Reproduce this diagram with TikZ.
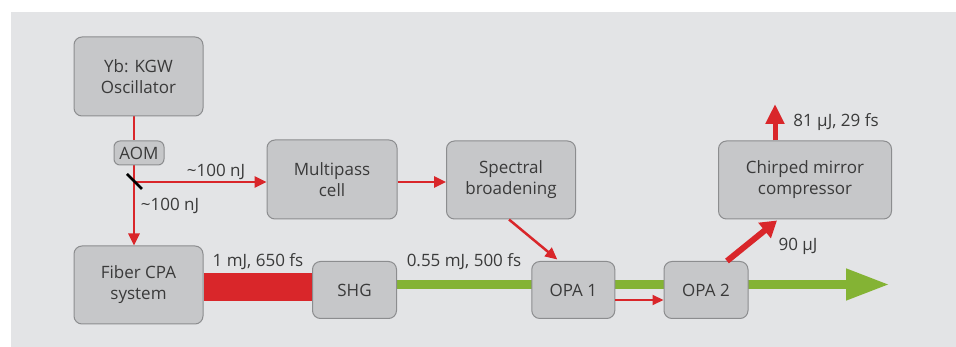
\documentclass[tikz,border=0pt]{standalone}
\usepackage{fontspec}
\setmainfont{Open Sans}
\usetikzlibrary{arrows.meta,calc,backgrounds}
\definecolor{bggrey}{HTML}{E3E4E6}
\definecolor{boxfill}{HTML}{C6C7C9}
\definecolor{boxline}{HTML}{8C8D8F}
\definecolor{beamred}{HTML}{D9262A}
\definecolor{beamgreen}{HTML}{84B334}
\definecolor{txt}{HTML}{3A3A3A}
\tikzset{
  unitbox/.style={draw=boxline, fill=boxfill, line width=1pt, rounded corners=8pt,
    align=center, text=txt, font=\fontsize{17}{21}\selectfont, inner sep=0pt},
  lbl/.style={text=txt, font=\fontsize{17}{20}\selectfont, inner sep=0pt},
  thinbeam/.style={draw=beamred, line width=2.5pt, -{Triangle[length=12pt,width=11pt]}},
  plainbeam/.style={draw=beamred, line width=2.5pt},
}
\begin{document}
\begin{tikzpicture}[x=1pt,y=-1pt]
\useasboundingbox (0,0) rectangle (956,347);
% nodes
\node[unitbox, minimum width=129pt, minimum height=79pt] (yb) at (138.5,76.5) {Yb: KGW\\Oscillator};
\node[unitbox, minimum width=50pt, minimum height=24pt, rounded corners=6pt] (aom) at (139,153) {AOM};
\node[unitbox, minimum width=130pt, minimum height=79pt] (mp) at (332,179.5) {Multipass\\cell};
\node[unitbox, minimum width=129pt, minimum height=78pt] (sb) at (511,180) {Spectral\\broadening};
\node[unitbox, minimum width=129pt, minimum height=78pt] (fiber) at (138.5,285) {Fiber CPA\\system};
\node[unitbox, minimum width=84pt, minimum height=57pt] (shg) at (354.5,290) {SHG};
\node[unitbox, minimum width=83pt, minimum height=57pt] (opa1) at (573.3,290) {OPA 1};
\node[unitbox, minimum width=84pt, minimum height=57pt] (opa2) at (706,290) {OPA 2};
\node[unitbox, minimum width=173pt, minimum height=78pt] (cmc) at (805,180) {Chirped mirror\\compressor};
\coordinate (mirror) at (134,182);
\coordinate (greentip) at (888,284.5);
\coordinate (outtip) at (775,104);
% background and beams behind boxes
\begin{scope}[on background layer]
\fill[bggrey] (11,12) rectangle (956,347);
\fill[beamred] (fiber.east |- 0,273.3) rectangle (shg.west |- 0,300.7);
\draw[beamgreen, line width=9.5pt] (shg.east |- greentip) -- ([xshift=-40pt]greentip);
\fill[beamgreen] ([xshift=-42pt,yshift=16.2pt]greentip) -- (greentip) -- ([xshift=-42pt,yshift=-16.2pt]greentip) -- cycle;
\draw[plainbeam] ([xshift=-4.5pt]yb.south) -- ([xshift=-5pt]aom.north);
\draw[thinbeam] ([xshift=-5pt]aom.south) -- ([xshift=-4.5pt]fiber.north);
\draw[thinbeam] (mirror) -- (mp.west |- mirror);
\end{scope}
\draw[line width=2.5pt, black] ($(mirror)+(-7,-8)$) -- ($(mirror)+(8,7)$);
\draw[thinbeam] (mp.east |- 0,182) -- (sb.west |- 0,182);
\draw[thinbeam] ([xshift=-2pt]sb.south) -- ([xshift=-16pt,yshift=1.5pt]opa1.north);
\draw[thinbeam, line width=2pt, -{Triangle[length=11pt,width=10pt]}] ([yshift=-10pt]opa1.east) -- ([yshift=-10pt]opa2.west);
\draw[draw=beamred, line width=6pt, -{Triangle[length=16pt,width=19pt]}] ([xshift=21pt]opa2.north) -- ([xshift=-28pt,yshift=-1pt]cmc.south);
\draw[draw=beamred, line width=5pt, -{Triangle[length=20pt,width=18pt]}] ([xshift=-30pt]cmc.north) -- (outtip);
% labels
\node[lbl] (l1) at (216,172) {\textasciitilde100 nJ};
\node[lbl] (l2) at (170,206) {\textasciitilde100 nJ};
\node[lbl] (l3) at (258,262) {1 mJ, 650 fs};
\node[lbl] (l4) at (464,262) {0.55 mJ, 500 fs};
\node[lbl] (l5) at (798,246) {90 µJ};
\node[lbl] (l6) at (836,122) {81 µJ, 29 fs};
\end{tikzpicture}
\end{document}
